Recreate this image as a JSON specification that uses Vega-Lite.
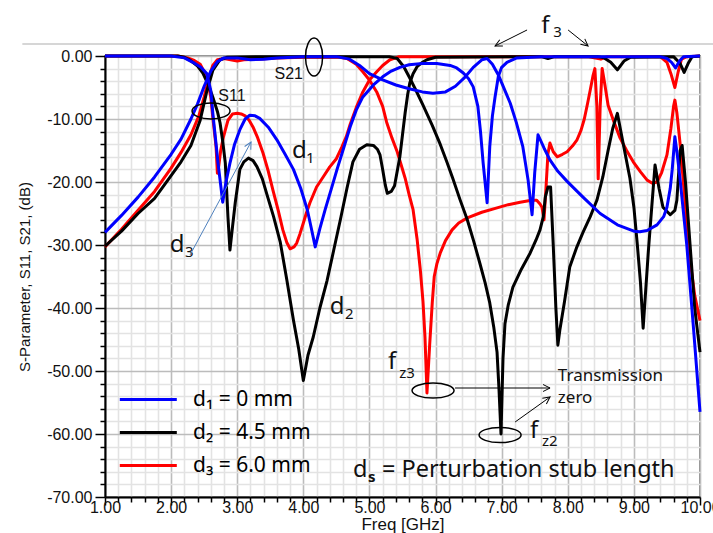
{
  "$schema": "https://vega.github.io/schema/vega-lite/v6.json",
  "width": 595,
  "height": 441,
  "autosize": {"type": "none"},
  "padding": {"left": 105, "top": 56, "right": 13, "bottom": 36},
  "background": "white",
  "config": {
    "view": {"stroke": "#8c8c8c", "strokeWidth": 2},
    "legend": {"labelFont": "Noto Sans", "labelFontSize": 21, "labelColor": "black"}
  },
  "datasets": {
    "curves": [
      {"d":"d₃ = 6.0 mm","s":"S21","f":1.0,"db":-30.3},{"d":"d₃ = 6.0 mm","s":"S21","f":1.25,"db":-27.5},{"d":"d₃ = 6.0 mm","s":"S21","f":1.5,"db":-24.5},{"d":"d₃ = 6.0 mm","s":"S21","f":1.75,"db":-21.5},{"d":"d₃ = 6.0 mm","s":"S21","f":2.0,"db":-17.8},{"d":"d₃ = 6.0 mm","s":"S21","f":2.15,"db":-15.3},{"d":"d₃ = 6.0 mm","s":"S21","f":2.3,"db":-12.5},{"d":"d₃ = 6.0 mm","s":"S21","f":2.42,"db":-9.5},{"d":"d₃ = 6.0 mm","s":"S21","f":2.5,"db":-6.5},{"d":"d₃ = 6.0 mm","s":"S21","f":2.57,"db":-3.5},{"d":"d₃ = 6.0 mm","s":"S21","f":2.63,"db":-1.5},{"d":"d₃ = 6.0 mm","s":"S21","f":2.7,"db":-0.6},{"d":"d₃ = 6.0 mm","s":"S21","f":2.8,"db":-0.4},{"d":"d₃ = 6.0 mm","s":"S21","f":2.9,"db":-0.6},{"d":"d₃ = 6.0 mm","s":"S21","f":3.0,"db":-0.8},{"d":"d₃ = 6.0 mm","s":"S21","f":3.1,"db":-0.6},{"d":"d₃ = 6.0 mm","s":"S21","f":3.3,"db":-0.5},{"d":"d₃ = 6.0 mm","s":"S21","f":3.6,"db":-0.3},{"d":"d₃ = 6.0 mm","s":"S21","f":4.0,"db":-0.2},{"d":"d₃ = 6.0 mm","s":"S21","f":4.55,"db":-0.2},{"d":"d₃ = 6.0 mm","s":"S21","f":4.66,"db":-0.4},{"d":"d₃ = 6.0 mm","s":"S21","f":4.8,"db":-1.3},{"d":"d₃ = 6.0 mm","s":"S21","f":4.9,"db":-2.5},{"d":"d₃ = 6.0 mm","s":"S21","f":5.0,"db":-3.8},{"d":"d₃ = 6.0 mm","s":"S21","f":5.11,"db":-5.7},{"d":"d₃ = 6.0 mm","s":"S21","f":5.2,"db":-8.0},{"d":"d₃ = 6.0 mm","s":"S21","f":5.26,"db":-10.5},{"d":"d₃ = 6.0 mm","s":"S21","f":5.34,"db":-13.0},{"d":"d₃ = 6.0 mm","s":"S21","f":5.42,"db":-15.2},{"d":"d₃ = 6.0 mm","s":"S21","f":5.48,"db":-17.3},{"d":"d₃ = 6.0 mm","s":"S21","f":5.54,"db":-19.4},{"d":"d₃ = 6.0 mm","s":"S21","f":5.6,"db":-22.0},{"d":"d₃ = 6.0 mm","s":"S21","f":5.66,"db":-24.4},{"d":"d₃ = 6.0 mm","s":"S21","f":5.72,"db":-29.0},{"d":"d₃ = 6.0 mm","s":"S21","f":5.77,"db":-34.0},{"d":"d₃ = 6.0 mm","s":"S21","f":5.81,"db":-39.0},{"d":"d₃ = 6.0 mm","s":"S21","f":5.84,"db":-44.6},{"d":"d₃ = 6.0 mm","s":"S21","f":5.87,"db":-53.5},{"d":"d₃ = 6.0 mm","s":"S21","f":5.91,"db":-46.0},{"d":"d₃ = 6.0 mm","s":"S21","f":5.95,"db":-39.2},{"d":"d₃ = 6.0 mm","s":"S21","f":5.98,"db":-35.0},{"d":"d₃ = 6.0 mm","s":"S21","f":6.02,"db":-33.0},{"d":"d₃ = 6.0 mm","s":"S21","f":6.07,"db":-31.3},{"d":"d₃ = 6.0 mm","s":"S21","f":6.15,"db":-29.3},{"d":"d₃ = 6.0 mm","s":"S21","f":6.25,"db":-27.6},{"d":"d₃ = 6.0 mm","s":"S21","f":6.35,"db":-26.5},{"d":"d₃ = 6.0 mm","s":"S21","f":6.48,"db":-25.7},{"d":"d₃ = 6.0 mm","s":"S21","f":6.7,"db":-24.8},{"d":"d₃ = 6.0 mm","s":"S21","f":6.93,"db":-24.1},{"d":"d₃ = 6.0 mm","s":"S21","f":7.1,"db":-23.6},{"d":"d₃ = 6.0 mm","s":"S21","f":7.28,"db":-23.2},{"d":"d₃ = 6.0 mm","s":"S21","f":7.45,"db":-22.9},{"d":"d₃ = 6.0 mm","s":"S21","f":7.53,"db":-22.9},{"d":"d₃ = 6.0 mm","s":"S21","f":7.58,"db":-23.5},{"d":"d₃ = 6.0 mm","s":"S21","f":7.61,"db":-24.0},{"d":"d₃ = 6.0 mm","s":"S21","f":7.64,"db":-26.0},{"d":"d₃ = 6.0 mm","s":"S21","f":7.67,"db":-21.0},{"d":"d₃ = 6.0 mm","s":"S21","f":7.7,"db":-15.5},{"d":"d₃ = 6.0 mm","s":"S21","f":7.73,"db":-13.8},{"d":"d₃ = 6.0 mm","s":"S21","f":7.78,"db":-15.2},{"d":"d₃ = 6.0 mm","s":"S21","f":7.84,"db":-16.0},{"d":"d₃ = 6.0 mm","s":"S21","f":7.92,"db":-15.6},{"d":"d₃ = 6.0 mm","s":"S21","f":7.99,"db":-15.2},{"d":"d₃ = 6.0 mm","s":"S21","f":8.07,"db":-14.3},{"d":"d₃ = 6.0 mm","s":"S21","f":8.14,"db":-13.3},{"d":"d₃ = 6.0 mm","s":"S21","f":8.2,"db":-11.8},{"d":"d₃ = 6.0 mm","s":"S21","f":8.25,"db":-10.0},{"d":"d₃ = 6.0 mm","s":"S21","f":8.3,"db":-7.5},{"d":"d₃ = 6.0 mm","s":"S21","f":8.34,"db":-5.4},{"d":"d₃ = 6.0 mm","s":"S21","f":8.38,"db":-3.2},{"d":"d₃ = 6.0 mm","s":"S21","f":8.41,"db":-2.0},{"d":"d₃ = 6.0 mm","s":"S21","f":8.44,"db":-8.0},{"d":"d₃ = 6.0 mm","s":"S21","f":8.46,"db":-19.5},{"d":"d₃ = 6.0 mm","s":"S21","f":8.49,"db":-8.0},{"d":"d₃ = 6.0 mm","s":"S21","f":8.52,"db":-2.0},{"d":"d₃ = 6.0 mm","s":"S21","f":8.56,"db":-4.5},{"d":"d₃ = 6.0 mm","s":"S21","f":8.61,"db":-7.8},{"d":"d₃ = 6.0 mm","s":"S21","f":8.7,"db":-10.5},{"d":"d₃ = 6.0 mm","s":"S21","f":8.79,"db":-13.0},{"d":"d₃ = 6.0 mm","s":"S21","f":8.89,"db":-15.0},{"d":"d₃ = 6.0 mm","s":"S21","f":8.99,"db":-16.8},{"d":"d₃ = 6.0 mm","s":"S21","f":9.1,"db":-18.4},{"d":"d₃ = 6.0 mm","s":"S21","f":9.2,"db":-19.7},{"d":"d₃ = 6.0 mm","s":"S21","f":9.28,"db":-20.2},{"d":"d₃ = 6.0 mm","s":"S21","f":9.35,"db":-20.0},{"d":"d₃ = 6.0 mm","s":"S21","f":9.42,"db":-18.5},{"d":"d₃ = 6.0 mm","s":"S21","f":9.5,"db":-15.7},{"d":"d₃ = 6.0 mm","s":"S21","f":9.56,"db":-11.5},{"d":"d₃ = 6.0 mm","s":"S21","f":9.6,"db":-8.0},{"d":"d₃ = 6.0 mm","s":"S21","f":9.62,"db":-7.0},{"d":"d₃ = 6.0 mm","s":"S21","f":9.65,"db":-9.0},{"d":"d₃ = 6.0 mm","s":"S21","f":9.7,"db":-14.0},{"d":"d₃ = 6.0 mm","s":"S21","f":9.78,"db":-24.0},{"d":"d₃ = 6.0 mm","s":"S21","f":9.85,"db":-32.4},{"d":"d₃ = 6.0 mm","s":"S21","f":9.92,"db":-38.0},{"d":"d₃ = 6.0 mm","s":"S21","f":10.0,"db":-42.0},
      {"d":"d₃ = 6.0 mm","s":"S11","f":1.0,"db":0},{"d":"d₃ = 6.0 mm","s":"S11","f":2.1,"db":0},{"d":"d₃ = 6.0 mm","s":"S11","f":2.25,"db":-0.3},{"d":"d₃ = 6.0 mm","s":"S11","f":2.35,"db":-0.7},{"d":"d₃ = 6.0 mm","s":"S11","f":2.44,"db":-1.3},{"d":"d₃ = 6.0 mm","s":"S11","f":2.5,"db":-2.5},{"d":"d₃ = 6.0 mm","s":"S11","f":2.56,"db":-4.3},{"d":"d₃ = 6.0 mm","s":"S11","f":2.6,"db":-6.5},{"d":"d₃ = 6.0 mm","s":"S11","f":2.63,"db":-9.7},{"d":"d₃ = 6.0 mm","s":"S11","f":2.66,"db":-12.5},{"d":"d₃ = 6.0 mm","s":"S11","f":2.68,"db":-14.4},{"d":"d₃ = 6.0 mm","s":"S11","f":2.7,"db":-18.6},{"d":"d₃ = 6.0 mm","s":"S11","f":2.72,"db":-17.5},{"d":"d₃ = 6.0 mm","s":"S11","f":2.75,"db":-15.0},{"d":"d₃ = 6.0 mm","s":"S11","f":2.79,"db":-12.9},{"d":"d₃ = 6.0 mm","s":"S11","f":2.86,"db":-10.2},{"d":"d₃ = 6.0 mm","s":"S11","f":2.93,"db":-9.2},{"d":"d₃ = 6.0 mm","s":"S11","f":3.0,"db":-9.1},{"d":"d₃ = 6.0 mm","s":"S11","f":3.06,"db":-9.2},{"d":"d₃ = 6.0 mm","s":"S11","f":3.12,"db":-9.5},{"d":"d₃ = 6.0 mm","s":"S11","f":3.18,"db":-10.2},{"d":"d₃ = 6.0 mm","s":"S11","f":3.24,"db":-11.3},{"d":"d₃ = 6.0 mm","s":"S11","f":3.31,"db":-13.0},{"d":"d₃ = 6.0 mm","s":"S11","f":3.39,"db":-15.4},{"d":"d₃ = 6.0 mm","s":"S11","f":3.47,"db":-18.3},{"d":"d₃ = 6.0 mm","s":"S11","f":3.54,"db":-21.3},{"d":"d₃ = 6.0 mm","s":"S11","f":3.62,"db":-24.5},{"d":"d₃ = 6.0 mm","s":"S11","f":3.69,"db":-27.6},{"d":"d₃ = 6.0 mm","s":"S11","f":3.75,"db":-29.6},{"d":"d₃ = 6.0 mm","s":"S11","f":3.8,"db":-30.6},{"d":"d₃ = 6.0 mm","s":"S11","f":3.86,"db":-30.3},{"d":"d₃ = 6.0 mm","s":"S11","f":3.9,"db":-29.7},{"d":"d₃ = 6.0 mm","s":"S11","f":3.95,"db":-28.2},{"d":"d₃ = 6.0 mm","s":"S11","f":4.0,"db":-26.5},{"d":"d₃ = 6.0 mm","s":"S11","f":4.05,"db":-24.8},{"d":"d₃ = 6.0 mm","s":"S11","f":4.1,"db":-23.3},{"d":"d₃ = 6.0 mm","s":"S11","f":4.2,"db":-20.8},{"d":"d₃ = 6.0 mm","s":"S11","f":4.3,"db":-19.2},{"d":"d₃ = 6.0 mm","s":"S11","f":4.4,"db":-17.6},{"d":"d₃ = 6.0 mm","s":"S11","f":4.5,"db":-16.3},{"d":"d₃ = 6.0 mm","s":"S11","f":4.58,"db":-14.5},{"d":"d₃ = 6.0 mm","s":"S11","f":4.65,"db":-12.8},{"d":"d₃ = 6.0 mm","s":"S11","f":4.71,"db":-10.8},{"d":"d₃ = 6.0 mm","s":"S11","f":4.8,"db":-8.2},{"d":"d₃ = 6.0 mm","s":"S11","f":4.9,"db":-5.7},{"d":"d₃ = 6.0 mm","s":"S11","f":5.0,"db":-3.8},{"d":"d₃ = 6.0 mm","s":"S11","f":5.11,"db":-2.5},{"d":"d₃ = 6.0 mm","s":"S11","f":5.2,"db":-1.5},{"d":"d₃ = 6.0 mm","s":"S11","f":5.31,"db":-0.6},{"d":"d₃ = 6.0 mm","s":"S11","f":5.45,"db":-0.1},{"d":"d₃ = 6.0 mm","s":"S11","f":8.3,"db":-0.1},{"d":"d₃ = 6.0 mm","s":"S11","f":8.4,"db":-0.3},{"d":"d₃ = 6.0 mm","s":"S11","f":8.5,"db":-0.5},{"d":"d₃ = 6.0 mm","s":"S11","f":8.6,"db":-0.1},{"d":"d₃ = 6.0 mm","s":"S11","f":9.4,"db":-0.1},{"d":"d₃ = 6.0 mm","s":"S11","f":9.5,"db":-1.0},{"d":"d₃ = 6.0 mm","s":"S11","f":9.56,"db":-2.8},{"d":"d₃ = 6.0 mm","s":"S11","f":9.62,"db":-5.0},{"d":"d₃ = 6.0 mm","s":"S11","f":9.67,"db":-2.5},{"d":"d₃ = 6.0 mm","s":"S11","f":9.72,"db":-0.5},{"d":"d₃ = 6.0 mm","s":"S11","f":9.8,"db":-0.1},{"d":"d₃ = 6.0 mm","s":"S11","f":10.0,"db":0},
      {"d":"d₂ = 4.5 mm","s":"S21","f":1.0,"db":-30.2},{"d":"d₂ = 4.5 mm","s":"S21","f":1.25,"db":-27.8},{"d":"d₂ = 4.5 mm","s":"S21","f":1.5,"db":-25.0},{"d":"d₂ = 4.5 mm","s":"S21","f":1.75,"db":-22.6},{"d":"d₂ = 4.5 mm","s":"S21","f":2.0,"db":-19.0},{"d":"d₂ = 4.5 mm","s":"S21","f":2.15,"db":-16.8},{"d":"d₂ = 4.5 mm","s":"S21","f":2.3,"db":-14.2},{"d":"d₂ = 4.5 mm","s":"S21","f":2.44,"db":-10.2},{"d":"d₂ = 4.5 mm","s":"S21","f":2.54,"db":-5.6},{"d":"d₂ = 4.5 mm","s":"S21","f":2.63,"db":-2.3},{"d":"d₂ = 4.5 mm","s":"S21","f":2.74,"db":-0.6},{"d":"d₂ = 4.5 mm","s":"S21","f":2.85,"db":-0.2},{"d":"d₂ = 4.5 mm","s":"S21","f":3.5,"db":-0.1},{"d":"d₂ = 4.5 mm","s":"S21","f":5.3,"db":-0.1},{"d":"d₂ = 4.5 mm","s":"S21","f":5.42,"db":-0.4},{"d":"d₂ = 4.5 mm","s":"S21","f":5.52,"db":-1.7},{"d":"d₂ = 4.5 mm","s":"S21","f":5.61,"db":-3.5},{"d":"d₂ = 4.5 mm","s":"S21","f":5.71,"db":-5.6},{"d":"d₂ = 4.5 mm","s":"S21","f":5.81,"db":-7.8},{"d":"d₂ = 4.5 mm","s":"S21","f":5.95,"db":-11.0},{"d":"d₂ = 4.5 mm","s":"S21","f":6.07,"db":-14.0},{"d":"d₂ = 4.5 mm","s":"S21","f":6.17,"db":-16.8},{"d":"d₂ = 4.5 mm","s":"S21","f":6.26,"db":-19.4},{"d":"d₂ = 4.5 mm","s":"S21","f":6.37,"db":-22.8},{"d":"d₂ = 4.5 mm","s":"S21","f":6.48,"db":-26.0},{"d":"d₂ = 4.5 mm","s":"S21","f":6.58,"db":-29.5},{"d":"d₂ = 4.5 mm","s":"S21","f":6.67,"db":-32.9},{"d":"d₂ = 4.5 mm","s":"S21","f":6.75,"db":-36.0},{"d":"d₂ = 4.5 mm","s":"S21","f":6.82,"db":-39.2},{"d":"d₂ = 4.5 mm","s":"S21","f":6.88,"db":-43.0},{"d":"d₂ = 4.5 mm","s":"S21","f":6.93,"db":-47.0},{"d":"d₂ = 4.5 mm","s":"S21","f":6.96,"db":-53.0},{"d":"d₂ = 4.5 mm","s":"S21","f":6.99,"db":-60.0},{"d":"d₂ = 4.5 mm","s":"S21","f":7.02,"db":-48.0},{"d":"d₂ = 4.5 mm","s":"S21","f":7.05,"db":-42.5},{"d":"d₂ = 4.5 mm","s":"S21","f":7.1,"db":-39.5},{"d":"d₂ = 4.5 mm","s":"S21","f":7.17,"db":-36.7},{"d":"d₂ = 4.5 mm","s":"S21","f":7.3,"db":-33.8},{"d":"d₂ = 4.5 mm","s":"S21","f":7.43,"db":-31.3},{"d":"d₂ = 4.5 mm","s":"S21","f":7.52,"db":-29.2},{"d":"d₂ = 4.5 mm","s":"S21","f":7.58,"db":-27.6},{"d":"d₂ = 4.5 mm","s":"S21","f":7.63,"db":-25.5},{"d":"d₂ = 4.5 mm","s":"S21","f":7.66,"db":-22.4},{"d":"d₂ = 4.5 mm","s":"S21","f":7.7,"db":-20.8},{"d":"d₂ = 4.5 mm","s":"S21","f":7.74,"db":-20.8},{"d":"d₂ = 4.5 mm","s":"S21","f":7.78,"db":-30.0},{"d":"d₂ = 4.5 mm","s":"S21","f":7.82,"db":-40.0},{"d":"d₂ = 4.5 mm","s":"S21","f":7.85,"db":-45.9},{"d":"d₂ = 4.5 mm","s":"S21","f":7.88,"db":-43.5},{"d":"d₂ = 4.5 mm","s":"S21","f":7.95,"db":-39.0},{"d":"d₂ = 4.5 mm","s":"S21","f":8.03,"db":-33.5},{"d":"d₂ = 4.5 mm","s":"S21","f":8.13,"db":-30.5},{"d":"d₂ = 4.5 mm","s":"S21","f":8.23,"db":-28.0},{"d":"d₂ = 4.5 mm","s":"S21","f":8.34,"db":-25.5},{"d":"d₂ = 4.5 mm","s":"S21","f":8.44,"db":-22.9},{"d":"d₂ = 4.5 mm","s":"S21","f":8.53,"db":-19.2},{"d":"d₂ = 4.5 mm","s":"S21","f":8.61,"db":-15.0},{"d":"d₂ = 4.5 mm","s":"S21","f":8.68,"db":-11.5},{"d":"d₂ = 4.5 mm","s":"S21","f":8.75,"db":-9.1},{"d":"d₂ = 4.5 mm","s":"S21","f":8.84,"db":-14.0},{"d":"d₂ = 4.5 mm","s":"S21","f":8.94,"db":-19.4},{"d":"d₂ = 4.5 mm","s":"S21","f":9.0,"db":-24.0},{"d":"d₂ = 4.5 mm","s":"S21","f":9.05,"db":-29.7},{"d":"d₂ = 4.5 mm","s":"S21","f":9.1,"db":-36.0},{"d":"d₂ = 4.5 mm","s":"S21","f":9.14,"db":-43.2},{"d":"d₂ = 4.5 mm","s":"S21","f":9.18,"db":-37.0},{"d":"d₂ = 4.5 mm","s":"S21","f":9.22,"db":-30.8},{"d":"d₂ = 4.5 mm","s":"S21","f":9.27,"db":-24.0},{"d":"d₂ = 4.5 mm","s":"S21","f":9.32,"db":-17.3},{"d":"d₂ = 4.5 mm","s":"S21","f":9.38,"db":-21.0},{"d":"d₂ = 4.5 mm","s":"S21","f":9.44,"db":-24.0},{"d":"d₂ = 4.5 mm","s":"S21","f":9.55,"db":-25.2},{"d":"d₂ = 4.5 mm","s":"S21","f":9.62,"db":-24.5},{"d":"d₂ = 4.5 mm","s":"S21","f":9.65,"db":-22.9},{"d":"d₂ = 4.5 mm","s":"S21","f":9.7,"db":-15.0},{"d":"d₂ = 4.5 mm","s":"S21","f":9.73,"db":-14.2},{"d":"d₂ = 4.5 mm","s":"S21","f":9.78,"db":-20.0},{"d":"d₂ = 4.5 mm","s":"S21","f":9.85,"db":-30.0},{"d":"d₂ = 4.5 mm","s":"S21","f":9.92,"db":-40.0},{"d":"d₂ = 4.5 mm","s":"S21","f":10.0,"db":-47.0},
      {"d":"d₂ = 4.5 mm","s":"S11","f":1.0,"db":0},{"d":"d₂ = 4.5 mm","s":"S11","f":2.1,"db":0},{"d":"d₂ = 4.5 mm","s":"S11","f":2.2,"db":-0.2},{"d":"d₂ = 4.5 mm","s":"S11","f":2.29,"db":-0.7},{"d":"d₂ = 4.5 mm","s":"S11","f":2.4,"db":-1.6},{"d":"d₂ = 4.5 mm","s":"S11","f":2.48,"db":-2.7},{"d":"d₂ = 4.5 mm","s":"S11","f":2.56,"db":-4.5},{"d":"d₂ = 4.5 mm","s":"S11","f":2.63,"db":-6.5},{"d":"d₂ = 4.5 mm","s":"S11","f":2.7,"db":-8.8},{"d":"d₂ = 4.5 mm","s":"S11","f":2.74,"db":-10.6},{"d":"d₂ = 4.5 mm","s":"S11","f":2.78,"db":-13.5},{"d":"d₂ = 4.5 mm","s":"S11","f":2.82,"db":-17.0},{"d":"d₂ = 4.5 mm","s":"S11","f":2.86,"db":-25.6},{"d":"d₂ = 4.5 mm","s":"S11","f":2.89,"db":-30.8},{"d":"d₂ = 4.5 mm","s":"S11","f":2.93,"db":-27.0},{"d":"d₂ = 4.5 mm","s":"S11","f":2.97,"db":-23.3},{"d":"d₂ = 4.5 mm","s":"S11","f":3.04,"db":-18.0},{"d":"d₂ = 4.5 mm","s":"S11","f":3.1,"db":-16.8},{"d":"d₂ = 4.5 mm","s":"S11","f":3.17,"db":-16.2},{"d":"d₂ = 4.5 mm","s":"S11","f":3.24,"db":-16.6},{"d":"d₂ = 4.5 mm","s":"S11","f":3.3,"db":-17.6},{"d":"d₂ = 4.5 mm","s":"S11","f":3.38,"db":-19.5},{"d":"d₂ = 4.5 mm","s":"S11","f":3.45,"db":-22.0},{"d":"d₂ = 4.5 mm","s":"S11","f":3.55,"db":-25.5},{"d":"d₂ = 4.5 mm","s":"S11","f":3.65,"db":-29.5},{"d":"d₂ = 4.5 mm","s":"S11","f":3.75,"db":-35.5},{"d":"d₂ = 4.5 mm","s":"S11","f":3.85,"db":-41.9},{"d":"d₂ = 4.5 mm","s":"S11","f":3.93,"db":-46.5},{"d":"d₂ = 4.5 mm","s":"S11","f":4.0,"db":-51.5},{"d":"d₂ = 4.5 mm","s":"S11","f":4.07,"db":-47.5},{"d":"d₂ = 4.5 mm","s":"S11","f":4.15,"db":-44.6},{"d":"d₂ = 4.5 mm","s":"S11","f":4.25,"db":-40.0},{"d":"d₂ = 4.5 mm","s":"S11","f":4.36,"db":-35.6},{"d":"d₂ = 4.5 mm","s":"S11","f":4.46,"db":-30.8},{"d":"d₂ = 4.5 mm","s":"S11","f":4.56,"db":-26.0},{"d":"d₂ = 4.5 mm","s":"S11","f":4.66,"db":-21.0},{"d":"d₂ = 4.5 mm","s":"S11","f":4.75,"db":-16.8},{"d":"d₂ = 4.5 mm","s":"S11","f":4.85,"db":-14.8},{"d":"d₂ = 4.5 mm","s":"S11","f":4.96,"db":-14.1},{"d":"d₂ = 4.5 mm","s":"S11","f":5.06,"db":-14.2},{"d":"d₂ = 4.5 mm","s":"S11","f":5.12,"db":-14.8},{"d":"d₂ = 4.5 mm","s":"S11","f":5.16,"db":-15.7},{"d":"d₂ = 4.5 mm","s":"S11","f":5.2,"db":-18.0},{"d":"d₂ = 4.5 mm","s":"S11","f":5.24,"db":-20.5},{"d":"d₂ = 4.5 mm","s":"S11","f":5.27,"db":-21.8},{"d":"d₂ = 4.5 mm","s":"S11","f":5.33,"db":-21.5},{"d":"d₂ = 4.5 mm","s":"S11","f":5.38,"db":-20.6},{"d":"d₂ = 4.5 mm","s":"S11","f":5.46,"db":-16.0},{"d":"d₂ = 4.5 mm","s":"S11","f":5.5,"db":-12.5},{"d":"d₂ = 4.5 mm","s":"S11","f":5.54,"db":-9.0},{"d":"d₂ = 4.5 mm","s":"S11","f":5.58,"db":-6.0},{"d":"d₂ = 4.5 mm","s":"S11","f":5.61,"db":-4.3},{"d":"d₂ = 4.5 mm","s":"S11","f":5.66,"db":-2.8},{"d":"d₂ = 4.5 mm","s":"S11","f":5.72,"db":-1.7},{"d":"d₂ = 4.5 mm","s":"S11","f":5.8,"db":-1.0},{"d":"d₂ = 4.5 mm","s":"S11","f":5.87,"db":-0.6},{"d":"d₂ = 4.5 mm","s":"S11","f":6.0,"db":-0.2},{"d":"d₂ = 4.5 mm","s":"S11","f":7.6,"db":-0.1},{"d":"d₂ = 4.5 mm","s":"S11","f":7.7,"db":-0.4},{"d":"d₂ = 4.5 mm","s":"S11","f":7.8,"db":-0.1},{"d":"d₂ = 4.5 mm","s":"S11","f":8.45,"db":-0.1},{"d":"d₂ = 4.5 mm","s":"S11","f":8.55,"db":-0.3},{"d":"d₂ = 4.5 mm","s":"S11","f":8.65,"db":-1.0},{"d":"d₂ = 4.5 mm","s":"S11","f":8.75,"db":-2.2},{"d":"d₂ = 4.5 mm","s":"S11","f":8.85,"db":-0.8},{"d":"d₂ = 4.5 mm","s":"S11","f":8.95,"db":-0.2},{"d":"d₂ = 4.5 mm","s":"S11","f":9.6,"db":-0.1},{"d":"d₂ = 4.5 mm","s":"S11","f":9.7,"db":-1.2},{"d":"d₂ = 4.5 mm","s":"S11","f":9.76,"db":-2.6},{"d":"d₂ = 4.5 mm","s":"S11","f":9.82,"db":-1.2},{"d":"d₂ = 4.5 mm","s":"S11","f":9.88,"db":-0.1},{"d":"d₂ = 4.5 mm","s":"S11","f":10.0,"db":0},
      {"d":"d₁ = 0 mm","s":"S21","f":1.0,"db":-28.0},{"d":"d₁ = 0 mm","s":"S21","f":1.25,"db":-25.3},{"d":"d₁ = 0 mm","s":"S21","f":1.5,"db":-22.4},{"d":"d₁ = 0 mm","s":"S21","f":1.75,"db":-19.2},{"d":"d₁ = 0 mm","s":"S21","f":2.0,"db":-15.6},{"d":"d₁ = 0 mm","s":"S21","f":2.15,"db":-13.2},{"d":"d₁ = 0 mm","s":"S21","f":2.3,"db":-10.0},{"d":"d₁ = 0 mm","s":"S21","f":2.4,"db":-7.6},{"d":"d₁ = 0 mm","s":"S21","f":2.5,"db":-4.8},{"d":"d₁ = 0 mm","s":"S21","f":2.6,"db":-2.4},{"d":"d₁ = 0 mm","s":"S21","f":2.7,"db":-0.9},{"d":"d₁ = 0 mm","s":"S21","f":2.8,"db":-0.3},{"d":"d₁ = 0 mm","s":"S21","f":3.0,"db":-0.3},{"d":"d₁ = 0 mm","s":"S21","f":3.2,"db":-0.6},{"d":"d₁ = 0 mm","s":"S21","f":3.4,"db":-0.5},{"d":"d₁ = 0 mm","s":"S21","f":3.6,"db":-0.3},{"d":"d₁ = 0 mm","s":"S21","f":4.0,"db":-0.1},{"d":"d₁ = 0 mm","s":"S21","f":4.5,"db":-0.1},{"d":"d₁ = 0 mm","s":"S21","f":4.7,"db":-0.5},{"d":"d₁ = 0 mm","s":"S21","f":4.85,"db":-1.5},{"d":"d₁ = 0 mm","s":"S21","f":5.0,"db":-2.8},{"d":"d₁ = 0 mm","s":"S21","f":5.2,"db":-3.8},{"d":"d₁ = 0 mm","s":"S21","f":5.4,"db":-4.6},{"d":"d₁ = 0 mm","s":"S21","f":5.6,"db":-5.2},{"d":"d₁ = 0 mm","s":"S21","f":5.8,"db":-5.7},{"d":"d₁ = 0 mm","s":"S21","f":5.96,"db":-5.9},{"d":"d₁ = 0 mm","s":"S21","f":6.15,"db":-5.7},{"d":"d₁ = 0 mm","s":"S21","f":6.3,"db":-4.8},{"d":"d₁ = 0 mm","s":"S21","f":6.45,"db":-3.3},{"d":"d₁ = 0 mm","s":"S21","f":6.57,"db":-1.8},{"d":"d₁ = 0 mm","s":"S21","f":6.7,"db":-0.6},{"d":"d₁ = 0 mm","s":"S21","f":6.78,"db":-0.4},{"d":"d₁ = 0 mm","s":"S21","f":6.86,"db":-1.3},{"d":"d₁ = 0 mm","s":"S21","f":6.95,"db":-3.0},{"d":"d₁ = 0 mm","s":"S21","f":7.05,"db":-5.5},{"d":"d₁ = 0 mm","s":"S21","f":7.13,"db":-7.5},{"d":"d₁ = 0 mm","s":"S21","f":7.22,"db":-10.5},{"d":"d₁ = 0 mm","s":"S21","f":7.32,"db":-14.4},{"d":"d₁ = 0 mm","s":"S21","f":7.4,"db":-19.7},{"d":"d₁ = 0 mm","s":"S21","f":7.46,"db":-25.2},{"d":"d₁ = 0 mm","s":"S21","f":7.5,"db":-18.5},{"d":"d₁ = 0 mm","s":"S21","f":7.55,"db":-12.5},{"d":"d₁ = 0 mm","s":"S21","f":7.64,"db":-14.6},{"d":"d₁ = 0 mm","s":"S21","f":7.73,"db":-16.5},{"d":"d₁ = 0 mm","s":"S21","f":7.85,"db":-18.3},{"d":"d₁ = 0 mm","s":"S21","f":7.99,"db":-19.9},{"d":"d₁ = 0 mm","s":"S21","f":8.23,"db":-22.4},{"d":"d₁ = 0 mm","s":"S21","f":8.49,"db":-25.0},{"d":"d₁ = 0 mm","s":"S21","f":8.75,"db":-26.8},{"d":"d₁ = 0 mm","s":"S21","f":9.0,"db":-27.8},{"d":"d₁ = 0 mm","s":"S21","f":9.09,"db":-27.9},{"d":"d₁ = 0 mm","s":"S21","f":9.2,"db":-27.7},{"d":"d₁ = 0 mm","s":"S21","f":9.35,"db":-26.8},{"d":"d₁ = 0 mm","s":"S21","f":9.45,"db":-25.5},{"d":"d₁ = 0 mm","s":"S21","f":9.5,"db":-24.0},{"d":"d₁ = 0 mm","s":"S21","f":9.55,"db":-21.0},{"d":"d₁ = 0 mm","s":"S21","f":9.58,"db":-18.0},{"d":"d₁ = 0 mm","s":"S21","f":9.62,"db":-12.8},{"d":"d₁ = 0 mm","s":"S21","f":9.66,"db":-16.0},{"d":"d₁ = 0 mm","s":"S21","f":9.7,"db":-19.7},{"d":"d₁ = 0 mm","s":"S21","f":9.8,"db":-30.0},{"d":"d₁ = 0 mm","s":"S21","f":9.9,"db":-43.0},{"d":"d₁ = 0 mm","s":"S21","f":10.0,"db":-56.5},
      {"d":"d₁ = 0 mm","s":"S11","f":1.0,"db":0},{"d":"d₁ = 0 mm","s":"S11","f":2.0,"db":0},{"d":"d₁ = 0 mm","s":"S11","f":2.2,"db":-0.3},{"d":"d₁ = 0 mm","s":"S11","f":2.33,"db":-1.0},{"d":"d₁ = 0 mm","s":"S11","f":2.45,"db":-1.8},{"d":"d₁ = 0 mm","s":"S11","f":2.54,"db":-2.8},{"d":"d₁ = 0 mm","s":"S11","f":2.6,"db":-5.5},{"d":"d₁ = 0 mm","s":"S11","f":2.63,"db":-9.0},{"d":"d₁ = 0 mm","s":"S11","f":2.67,"db":-13.0},{"d":"d₁ = 0 mm","s":"S11","f":2.71,"db":-17.0},{"d":"d₁ = 0 mm","s":"S11","f":2.75,"db":-20.5},{"d":"d₁ = 0 mm","s":"S11","f":2.78,"db":-23.2},{"d":"d₁ = 0 mm","s":"S11","f":2.83,"db":-20.0},{"d":"d₁ = 0 mm","s":"S11","f":2.89,"db":-17.0},{"d":"d₁ = 0 mm","s":"S11","f":2.96,"db":-14.0},{"d":"d₁ = 0 mm","s":"S11","f":3.04,"db":-11.7},{"d":"d₁ = 0 mm","s":"S11","f":3.12,"db":-10.0},{"d":"d₁ = 0 mm","s":"S11","f":3.19,"db":-9.4},{"d":"d₁ = 0 mm","s":"S11","f":3.27,"db":-9.5},{"d":"d₁ = 0 mm","s":"S11","f":3.34,"db":-9.9},{"d":"d₁ = 0 mm","s":"S11","f":3.47,"db":-11.3},{"d":"d₁ = 0 mm","s":"S11","f":3.6,"db":-13.3},{"d":"d₁ = 0 mm","s":"S11","f":3.72,"db":-15.5},{"d":"d₁ = 0 mm","s":"S11","f":3.85,"db":-18.0},{"d":"d₁ = 0 mm","s":"S11","f":3.96,"db":-21.0},{"d":"d₁ = 0 mm","s":"S11","f":4.06,"db":-24.4},{"d":"d₁ = 0 mm","s":"S11","f":4.12,"db":-27.3},{"d":"d₁ = 0 mm","s":"S11","f":4.18,"db":-30.3},{"d":"d₁ = 0 mm","s":"S11","f":4.25,"db":-27.4},{"d":"d₁ = 0 mm","s":"S11","f":4.33,"db":-24.4},{"d":"d₁ = 0 mm","s":"S11","f":4.42,"db":-21.2},{"d":"d₁ = 0 mm","s":"S11","f":4.51,"db":-18.0},{"d":"d₁ = 0 mm","s":"S11","f":4.61,"db":-14.6},{"d":"d₁ = 0 mm","s":"S11","f":4.71,"db":-11.2},{"d":"d₁ = 0 mm","s":"S11","f":4.8,"db":-8.6},{"d":"d₁ = 0 mm","s":"S11","f":4.9,"db":-6.5},{"d":"d₁ = 0 mm","s":"S11","f":5.06,"db":-4.6},{"d":"d₁ = 0 mm","s":"S11","f":5.2,"db":-3.3},{"d":"d₁ = 0 mm","s":"S11","f":5.33,"db":-2.4},{"d":"d₁ = 0 mm","s":"S11","f":5.46,"db":-1.8},{"d":"d₁ = 0 mm","s":"S11","f":5.6,"db":-1.4},{"d":"d₁ = 0 mm","s":"S11","f":5.8,"db":-1.2},{"d":"d₁ = 0 mm","s":"S11","f":6.02,"db":-1.2},{"d":"d₁ = 0 mm","s":"S11","f":6.22,"db":-1.5},{"d":"d₁ = 0 mm","s":"S11","f":6.32,"db":-1.9},{"d":"d₁ = 0 mm","s":"S11","f":6.42,"db":-2.7},{"d":"d₁ = 0 mm","s":"S11","f":6.5,"db":-3.6},{"d":"d₁ = 0 mm","s":"S11","f":6.57,"db":-4.9},{"d":"d₁ = 0 mm","s":"S11","f":6.64,"db":-8.0},{"d":"d₁ = 0 mm","s":"S11","f":6.68,"db":-12.0},{"d":"d₁ = 0 mm","s":"S11","f":6.72,"db":-17.0},{"d":"d₁ = 0 mm","s":"S11","f":6.78,"db":-23.3},{"d":"d₁ = 0 mm","s":"S11","f":6.82,"db":-14.4},{"d":"d₁ = 0 mm","s":"S11","f":6.86,"db":-9.5},{"d":"d₁ = 0 mm","s":"S11","f":6.9,"db":-6.5},{"d":"d₁ = 0 mm","s":"S11","f":6.95,"db":-3.2},{"d":"d₁ = 0 mm","s":"S11","f":7.0,"db":-1.8},{"d":"d₁ = 0 mm","s":"S11","f":7.08,"db":-1.0},{"d":"d₁ = 0 mm","s":"S11","f":7.23,"db":-0.3},{"d":"d₁ = 0 mm","s":"S11","f":7.6,"db":-0.1},{"d":"d₁ = 0 mm","s":"S11","f":9.4,"db":-0.1},{"d":"d₁ = 0 mm","s":"S11","f":9.5,"db":-0.4},{"d":"d₁ = 0 mm","s":"S11","f":9.57,"db":-1.0},{"d":"d₁ = 0 mm","s":"S11","f":9.63,"db":-1.9},{"d":"d₁ = 0 mm","s":"S11","f":9.69,"db":-0.8},{"d":"d₁ = 0 mm","s":"S11","f":9.75,"db":-0.1},{"d":"d₁ = 0 mm","s":"S11","f":10.0,"db":0}
    ]
  },
  "encoding": {
    "x": {
      "field": "f", "type": "quantitative",
      "scale": {"domain": [1, 10], "nice": false, "zero": false},
      "axis": {
        "values": [1,1.2,1.4,1.6,1.8,2,2.2,2.4,2.6,2.8,3,3.2,3.4,3.6,3.8,4,4.2,4.4,4.6,4.8,5,5.2,5.4,5.6,5.8,6,6.2,6.4,6.6,6.8,7,7.2,7.4,7.6,7.8,8,8.2,8.4,8.6,8.8,9,9.2,9.4,9.6,9.8,10],
        "format": ".2f",
        "labelExpr": "abs(datum.value - round(datum.value)) < 0.001 ? datum.label : ''",
        "labelFont": "Liberation Sans", "labelFontSize": 16, "labelColor": "#111111",
        "labelPadding": -6, "labelFlush": false, "labelOverlap": false,
        "grid": true,
        "gridColor": {"condition": {"test": "abs(datum.value - round(datum.value)) < 0.001", "value": "#bcbcbc"}, "value": "#e3e3e3"},
        "gridWidth": 1.6,
        "tickColor": "black", "tickWidth": 1.5,
        "tickSize": {"condition": {"test": "abs(datum.value - round(datum.value)) < 0.001", "value": 8}, "value": 5},
        "domainColor": "black", "domainWidth": 2,
        "title": "Freq [GHz]", "titleFont": "Liberation Sans", "titleFontSize": 17, "titleFontWeight": "normal", "titleColor": "#111111", "titlePadding": 1
      }
    },
    "y": {
      "field": "db", "type": "quantitative",
      "scale": {"domain": [-70, 0], "nice": false, "zero": false},
      "axis": {
        "values": [-70,-68,-66,-64,-62,-60,-58,-56,-54,-52,-50,-48,-46,-44,-42,-40,-38,-36,-34,-32,-30,-28,-26,-24,-22,-20,-18,-16,-14,-12,-10,-8,-6,-4,-2,0],
        "format": ".2f",
        "labelExpr": "datum.value % 10 === 0 ? replace(datum.label, '−', '-') : ''",
        "labelFont": "Liberation Sans", "labelFontSize": 16, "labelColor": "#111111",
        "labelPadding": 3, "labelFlush": false, "labelOverlap": false,
        "grid": true,
        "gridColor": {"condition": {"test": "datum.value % 10 === 0", "value": "#bcbcbc"}, "value": "#e3e3e3"},
        "gridWidth": 1.6,
        "tickColor": "black", "tickWidth": 1.5,
        "tickSize": {"condition": {"test": "datum.value % 10 === 0", "value": 10}, "value": 5},
        "domainColor": "black", "domainWidth": 2,
        "title": "S-Parameter, S11, S21, (dB)", "titleFont": "Liberation Sans", "titleFontSize": 15, "titleFontWeight": "normal", "titleColor": "#111111", "titlePadding": 14
      }
    }
  },
  "layer": [
    {
      "data": {"values": [{"f": -0.25, "f2": 10.4, "db": 1.9}]},
      "mark": {"type": "rule", "color": "#c8c8c8", "strokeWidth": 1.5},
      "encoding": {"x2": {"field": "f2"}}
    },
    {
      "data": {"name": "curves"},
      "transform": [{"filter": "datum.d === 'd₃ = 6.0 mm'"}],
      "mark": {"type": "line", "strokeWidth": 3, "strokeJoin": "round"},
      "encoding": {
        "color": {"field": "d", "type": "nominal",
          "scale": {"domain": ["d₁ = 0 mm", "d₂ = 4.5 mm", "d₃ = 6.0 mm"], "range": ["#0000ff", "#000000", "#ff0000"]},
          "legend": {"title": null, "orient": "none", "legendX": 10, "legendY": 333, "symbolType": "M-1,0H9", "symbolSize": 130, "symbolStrokeWidth": 3, "labelOffset": 57, "rowPadding": 11, "padding": 0}},
        "detail": {"field": "s"}
      }
    },
    {
      "data": {"name": "curves"},
      "transform": [{"filter": "datum.d === 'd₂ = 4.5 mm'"}],
      "mark": {"type": "line", "strokeWidth": 3, "strokeJoin": "round"},
      "encoding": {"color": {"field": "d", "type": "nominal"}, "detail": {"field": "s"}}
    },
    {
      "data": {"name": "curves"},
      "transform": [{"filter": "datum.d === 'd₁ = 0 mm'"}],
      "mark": {"type": "line", "strokeWidth": 3, "strokeJoin": "round"},
      "encoding": {"color": {"field": "d", "type": "nominal"}, "detail": {"field": "s"}}
    },
    {
      "data": {"values": [{"f": 3.78, "db": -2.9, "t": "S21"}, {"f": 2.92, "db": -6.35, "t": "S11"}]},
      "mark": {"type": "text", "font": "Liberation Sans", "fontSize": 16, "align": "center", "baseline": "middle", "color": "#111111"},
      "encoding": {"text": {"field": "t"}}
    },
    {
      "data": {"values": [{"f": 3.83, "db": -16.2, "t": "d"}, {"f": 4.40, "db": -41.0, "t": "d"}, {"f": 1.98, "db": -31.1, "t": "d"}, {"f": 5.28, "db": -49.7, "t": "f"}, {"f": 7.43, "db": -60.6, "t": "f"}, {"f": 7.6, "db": 3.65, "t": "f"}]},
      "mark": {"type": "text", "font": "Noto Sans", "fontSize": 24, "align": "left", "baseline": "alphabetic", "color": "#111111"},
      "encoding": {"text": {"field": "t"}}
    },
    {
      "data": {"values": [{"f": 4.04, "db": -17.0, "t": "1"}, {"f": 4.63, "db": -41.7, "t": "2"}, {"f": 2.21, "db": -31.9, "t": "3"}, {"f": 5.45, "db": -51.1, "t": "z3"}, {"f": 7.61, "db": -61.9, "t": "z2"}, {"f": 7.78, "db": 3.0, "t": "3"}]},
      "mark": {"type": "text", "font": "Noto Sans", "fontSize": 15, "align": "left", "baseline": "alphabetic", "color": "#111111"},
      "encoding": {"text": {"field": "t"}}
    },
    {
      "data": {"values": [{"f": 4.75, "db": -66.8, "t": "d"}, {"f": 5.19, "db": -66.8, "t": "= Perturbation stub  length"}]},
      "mark": {"type": "text", "font": "Noto Sans", "fontSize": 23.5, "align": "left", "baseline": "alphabetic", "color": "#111111"},
      "encoding": {"text": {"field": "t"}}
    },
    {
      "data": {"values": [{"f": 4.98, "db": -67.6, "t": "s"}]},
      "mark": {"type": "text", "font": "Noto Sans", "fontSize": 15, "fontWeight": "bold", "align": "left", "baseline": "alphabetic", "color": "#111111"},
      "encoding": {"text": {"field": "t"}}
    },
    {
      "data": {"values": [{"f": 7.85, "db": -51.6, "t": "Transmission"}, {"f": 7.85, "db": -55.1, "t": "zero"}]},
      "mark": {"type": "text", "font": "Noto Sans", "fontSize": 17, "align": "left", "baseline": "alphabetic", "color": "#111111"},
      "encoding": {"text": {"field": "t"}}
    },
    {
      "data": {"values": [{"f": 5.962, "db": -53.1}, {"f": 6.976, "db": -60.16}]},
      "mark": {"type": "point", "shape": "M-1,0A1,0.36 0 1,0 1,0A1,0.36 0 1,0 -1,0", "size": 1764, "filled": false, "color": "black", "strokeWidth": 1.5, "opacity": 1}
    },
    {
      "data": {"values": [{"f": 2.604, "db": -8.73}]},
      "mark": {"type": "point", "shape": "M-1,0A1,0.42 0 1,0 1,0A1,0.42 0 1,0 -1,0", "size": 1444, "filled": false, "color": "black", "strokeWidth": 1.5, "opacity": 1}
    },
    {
      "data": {"values": [{"f": 4.162, "db": -0.16}]},
      "mark": {"type": "point", "shape": "M0,-1A0.45,1 0 1,0 0,1A0.45,1 0 1,0 0,-1", "size": 1444, "filled": false, "color": "black", "strokeWidth": 1.5, "opacity": 1}
    },
    {
      "data": {"values": [{"f": 6.295, "db": -52.7, "f2": 7.732, "db2": -52.7}, {"f": 7.203, "db": -58.1, "f2": 7.732, "db2": -54.13}, {"f": 7.384, "db": 4.13, "f2": 6.90, "db2": 1.59}, {"f": 8.005, "db": 4.13, "f2": 8.307, "db2": 1.59}]},
      "mark": {"type": "rule", "color": "black", "strokeWidth": 1},
      "encoding": {"x2": {"field": "f2"}, "y2": {"field": "db2"}}
    },
    {
      "data": {"values": [{"f": 2.286, "db": -31.59, "f2": 3.209, "db2": -13.65}]},
      "mark": {"type": "rule", "color": "#4f81bd", "strokeWidth": 1},
      "encoding": {"x2": {"field": "f2"}, "y2": {"field": "db2"}}
    },
    {
      "data": {"values": [{"f": 3.209, "db": -13.65}]},
      "mark": {"type": "point", "shape": "M-0.7,1.4L0,0L0.7,1.4", "size": 100, "angle": 28.4, "filled": false, "color": "#4f81bd", "strokeWidth": 1, "opacity": 1}
    },
    {
      "data": {"values": [{"f": 7.732, "db": -52.7}]},
      "mark": {"type": "point", "shape": "M-0.7,1.4L0,0L0.7,1.4", "size": 100, "angle": 90, "filled": false, "color": "black", "strokeWidth": 1, "opacity": 1}
    },
    {
      "data": {"values": [{"f": 7.732, "db": -54.13}]},
      "mark": {"type": "point", "shape": "M-0.7,1.4L0,0L0.7,1.4", "size": 100, "angle": 54.5, "filled": false, "color": "black", "strokeWidth": 1, "opacity": 1}
    },
    {
      "data": {"values": [{"f": 6.90, "db": 1.59}]},
      "mark": {"type": "point", "shape": "M-0.7,1.4L0,0L0.7,1.4", "size": 100, "angle": 243.4, "filled": false, "color": "black", "strokeWidth": 1, "opacity": 1}
    },
    {
      "data": {"values": [{"f": 8.307, "db": 1.59}]},
      "mark": {"type": "point", "shape": "M-0.7,1.4L0,0L0.7,1.4", "size": 100, "angle": 128.7, "filled": false, "color": "black", "strokeWidth": 1, "opacity": 1}
    }
  ]
}
